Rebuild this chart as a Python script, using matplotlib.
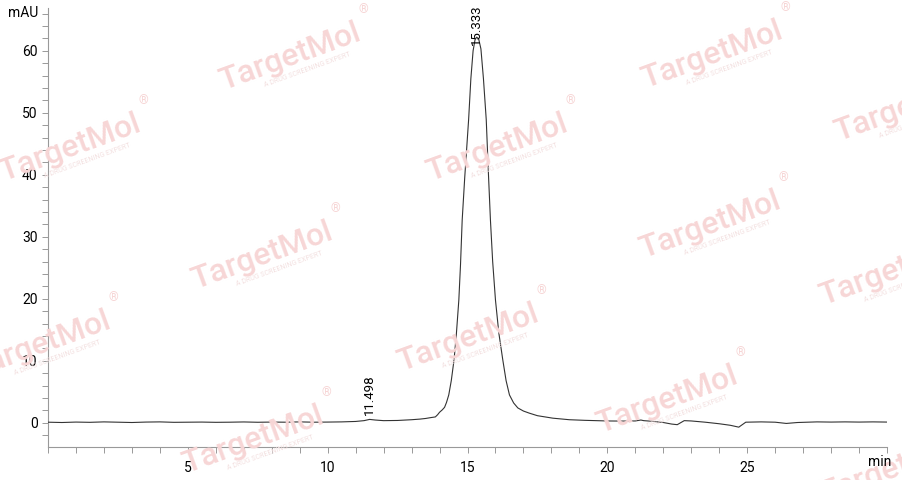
import numpy as np
import matplotlib
matplotlib.use("Agg")
import matplotlib.pyplot as plt
from matplotlib.ticker import MultipleLocator

time_min = [
    0.0, 0.5, 1.0, 1.5, 2.0, 2.5, 3.0, 3.5, 4.0, 4.5, 5.0, 5.5, 6.0, 6.5,
    7.0, 7.5, 8.0, 8.5, 9.0, 9.5, 10.0, 10.5, 11.0, 11.3, 11.5, 11.7, 12.0,
    12.5, 13.0, 13.3, 13.5, 13.7, 13.85, 13.93, 14.0, 14.1, 14.18, 14.25,
    14.33, 14.42, 14.52, 14.6, 14.69, 14.75, 14.81, 14.9, 15.04, 15.12,
    15.2, 15.27, 15.33, 15.4, 15.48, 15.57, 15.67, 15.75, 15.82, 15.9,
    16.0, 16.12, 16.26, 16.38, 16.5, 16.65, 16.8, 17.0, 17.21, 17.5, 18.05,
    18.64, 19.2, 20.0, 20.5, 21.0, 21.2, 21.3, 21.6, 22.0, 22.3, 22.5,
    22.75, 23.0, 23.5, 24.0, 24.4, 24.7, 24.95, 25.5, 26.0, 26.4, 26.8,
    27.5, 28.0, 28.5, 29.0, 29.5, 30.0,
]
signal_mau = [
    0.10, 0.05, 0.12, 0.08, 0.15, 0.10, 0.05, 0.12, 0.15, 0.08, 0.10, 0.12,
    0.08, 0.10, 0.14, 0.09, 0.12, 0.10, 0.15, 0.10, 0.12, 0.15, 0.22, 0.35,
    0.55, 0.45, 0.35, 0.38, 0.50, 0.60, 0.70, 0.85, 0.95, 1.3, 1.7, 2.1,
    2.5, 3.3, 4.5, 6.8, 10.2, 14.2, 19.8, 25.5, 32.7, 39.5, 48.9, 55.5,
    60.0, 61.8, 62.2, 61.9, 60.3, 55.5, 48.9, 40.0, 32.7, 26.0, 19.8, 14.5,
    10.2, 6.8, 4.5, 3.2, 2.4, 1.9, 1.56, 1.15, 0.75, 0.50, 0.40, 0.30,
    0.28, 0.30, 0.45, 0.35, 0.25, 0.05, -0.20, -0.30, 0.35, 0.30, 0.10,
    -0.15, -0.40, -0.70, 0.10, 0.15, 0.10, -0.10, 0.05, 0.15, 0.12, 0.15,
    0.12, 0.15, 0.12,
]

# Peak-Beschriftungen
peak_rt = [11.498, 15.333]
peak_label_y = [1.3, 61.0]

# Wasserzeichen-Positionen (Pixel im 902x480 Bild)
wm_pos = [(290, 57), (712, 55), (70, 148), (497, 148), (905, 108),
          (710, 225), (262, 256), (890, 272), (40, 345), (468, 338),
          (667, 400), (253, 440), (890, 470)]

W, H = 902, 480
plt.rcParams['font.family'] = ['Roboto', 'DejaVu Sans']

fig = plt.figure(figsize=(W / 100, H / 100), dpi=100)
ax = fig.add_axes([48 / W, 1 - 447 / H, (887 - 48) / W, (447 - 8) / H])
ax.set_facecolor('none')

# Wasserzeichen (hinter allem)
ang = np.deg2rad(20)
for (px, py) in wm_pos:
    fx, fy = px / W, 1 - py / H
    fig.text(fx, fy, 'TargetMol', fontsize=23, fontweight='medium',
             color='#f7d6d6', rotation=20, ha='center', va='center',
             rotation_mode='anchor', zorder=0)
    ox, oy = 18 * np.sin(ang) + 12 * np.cos(ang), -18 * np.cos(ang) + 12 * np.sin(ang)
    fig.text(fx + ox / W, fy + oy / H, 'A DRUG SCREENING EXPERT',
             fontsize=5, color='#f3e0e0', rotation=20, ha='center',
             va='center', rotation_mode='anchor', zorder=0)
    rx, ry = 74 * np.cos(ang) + 4, 74 * np.sin(ang) + 22
    fig.text(fx + rx / W, fy + ry / H, '®', fontsize=9, color='#f7d6d6',
             ha='center', va='center', zorder=0)

ax.plot(time_min, signal_mau, color='#333333', linewidth=0.8, zorder=3)

for rt, ly in zip(peak_rt, peak_label_y):
    ax.text(rt, ly, f'{rt:.3f}', rotation=90, ha='center', va='bottom',
            fontsize=9.5, color='black', zorder=4)

ax.set_xlim(0, 30)
ax.set_ylim(-3.9, 66.9)
ax.xaxis.set_minor_locator(MultipleLocator(1))
ax.yaxis.set_minor_locator(MultipleLocator(2))
ax.set_xticks([5, 10, 15, 20, 25])
ax.set_yticks([0, 10, 20, 30, 40, 50, 60])

for side in ['top', 'right']:
    ax.spines[side].set_visible(False)
for side in ['left', 'bottom']:
    ax.spines[side].set_color('#999999')
    ax.spines[side].set_linewidth(0.8)

ax.tick_params(which='both', direction='out', length=4, width=0.7,
               color='#999999', labelsize=10, labelcolor='black')
ax.tick_params(axis='x', pad=6)

fig.text(8 / W, 1 - 13 / H, 'mAU', fontsize=10, ha='left', va='center')
fig.text(880 / W, 1 - 462 / H, 'min', fontsize=10, ha='center', va='center')

fig.savefig('out.png', dpi=100)
